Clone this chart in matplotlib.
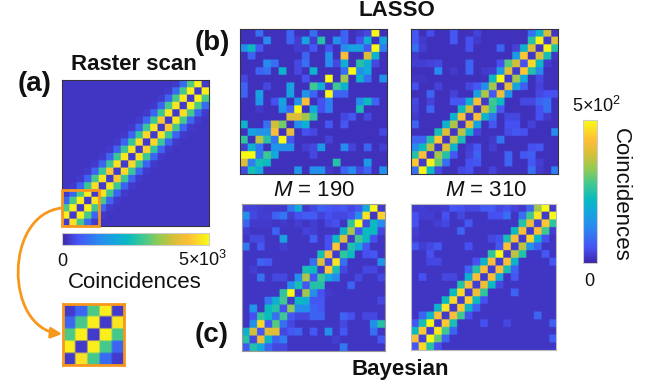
import matplotlib
matplotlib.use('Agg')
import matplotlib.pyplot as plt
from matplotlib.colors import LinearSegmentedColormap, Normalize
from matplotlib.cm import ScalarMappable
from matplotlib.patches import FancyArrowPatch, Rectangle
from matplotlib.path import Path
import numpy as np

plt.rcParams['font.family'] = ['Liberation Sans', 'DejaVu Sans']
plt.rcParams['mathtext.fontset'] = 'custom'
plt.rcParams['mathtext.rm'] = 'Liberation Sans'
plt.rcParams['mathtext.it'] = 'Liberation Sans:italic'

# All matrices are in percent of the colour scale (5e3 for raster, 5e2 for the others)
raster = [
    [4,4,4,4,4,4,4,4,4,4,4,4,4,4,4,5,17,58,97,5],
    [4,4,4,4,4,4,4,4,4,4,4,4,4,4,5,17,56,97,5,97],
    [4,4,4,4,4,4,4,4,4,4,4,4,4,5,16,56,96,5,97,57],
    [4,4,4,4,4,4,4,4,4,4,4,4,5,15,56,95,5,97,57,17],
    [4,4,4,4,4,4,4,4,4,4,4,5,15,54,95,5,93,56,16,5],
    [4,4,4,4,4,4,4,4,4,4,5,16,54,88,5,95,56,16,5,4],
    [4,4,4,4,4,4,4,4,4,5,15,54,95,5,88,56,16,5,4,4],
    [4,4,4,4,4,4,4,4,5,15,53,92,5,94,54,15,5,4,4,4],
    [4,4,4,4,4,4,4,5,15,53,93,5,92,54,15,5,4,4,4,4],
    [4,4,4,4,4,4,5,15,54,95,5,90,53,15,5,4,4,4,4,4],
    [4,4,4,4,4,5,15,54,95,5,94,54,15,5,4,4,4,4,4,4],
    [4,4,4,4,5,15,54,94,5,92,54,15,5,4,4,4,4,4,4,4],
    [4,4,4,5,15,54,88,5,92,54,15,5,4,4,4,4,4,4,4,4],
    [4,4,5,15,56,95,5,88,54,15,5,4,4,4,4,4,4,4,4,4],
    [4,5,15,54,93,5,95,54,15,5,4,4,4,4,4,4,4,4,4,4],
    [5,16,57,97,5,94,55,15,5,4,4,4,4,4,4,4,4,4,4,4],
    [16,56,97,5,95,56,16,5,4,4,4,4,4,4,4,4,4,4,4,4],
    [57,97,5,97,56,16,5,4,4,4,4,4,4,4,4,4,4,4,4,4],
    [97,5,97,56,16,5,4,4,4,4,4,4,4,4,4,4,4,4,4,4],
    [5,94,56,17,5,4,4,4,4,4,4,4,4,4,4,4,4,4,4,4],
]

lasso_190 = [
    [3,3,18,3,3,3,15,3,3,18,3,3,3,15,3,5,8,100,3],
    [3,3,3,25,3,3,15,6,35,6,50,3,28,15,3,10,40,3,35],
    [28,45,12,3,3,3,3,6,5,12,3,10,3,25,35,35,12,100,22],
    [3,15,3,3,3,3,3,3,15,3,3,28,3,85,3,3,78,42,3],
    [3,3,3,25,18,3,3,8,18,3,3,25,8,40,3,50,40,8,3],
    [3,3,15,18,3,42,3,8,3,42,3,3,3,18,100,28,38,3,3],
    [8,3,3,3,3,3,3,3,10,3,3,100,3,68,3,42,18,3,28],
    [15,3,3,8,3,3,35,3,3,55,40,5,55,42,3,3,3,3,3],
    [15,3,35,3,3,3,35,3,30,15,3,100,15,15,3,3,3,3,3],
    [3,3,30,3,10,35,3,30,85,3,10,22,3,3,3,28,45,15,3],
    [3,3,5,3,3,30,15,100,3,38,10,22,3,3,3,48,3,3,3],
    [3,3,3,3,3,3,78,78,68,52,3,3,3,8,12,3,8,3,3],
    [42,3,3,18,75,62,3,28,40,3,3,12,3,12,3,3,3,3,3],
    [3,35,30,30,85,3,80,3,10,8,3,3,3,3,3,3,3,3,8],
    [52,3,72,50,20,100,12,3,3,3,3,7,3,3,3,3,3,3,3],
    [6,42,20,3,30,28,28,3,6,8,32,3,3,25,7,3,15,3,6],
    [100,100,20,55,38,3,3,3,3,8,3,3,3,3,3,3,3,3,3],
    [78,22,48,45,3,3,3,3,3,3,3,3,50,3,3,3,32,3,3],
    [8,48,38,3,3,3,3,30,3,28,28,5,3,15,25,8,15,3,28],
]

lasso_310 = [
    [12,3,9,3,3,12,3,3,7,3,3,3,3,3,3,18,42,75,4],
    [12,5,3,3,3,12,3,10,5,3,3,3,3,3,3,50,98,5,78],
    [18,6,3,3,3,3,3,10,3,3,3,15,3,7,42,78,4,98,50],
    [5,3,3,3,3,3,3,3,3,3,3,3,3,32,88,4,78,48,4],
    [6,6,7,8,3,3,3,15,3,3,3,10,58,75,10,92,45,5,3],
    [3,3,3,25,3,5,3,15,3,5,6,32,78,5,88,50,25,3,3],
    [4,4,3,3,3,3,3,3,3,3,45,100,5,68,38,3,8,3,3],
    [10,3,3,7,3,3,3,8,12,28,68,4,80,35,14,3,7,3,3],
    [3,3,15,3,3,7,3,3,35,70,12,82,30,3,3,3,8,10,10],
    [8,3,7,3,3,12,12,40,85,5,55,45,3,3,8,8,15,18,3],
    [7,3,15,3,3,3,45,75,4,75,52,12,3,3,3,3,10,18,3],
    [5,3,3,3,3,42,85,5,85,42,20,3,8,8,3,3,10,5,3],
    [15,3,3,3,42,70,4,80,35,3,12,3,10,10,3,7,3,3,3],
    [3,3,3,48,78,4,72,42,7,3,3,3,9,12,10,3,3,3,25],
    [15,15,50,88,4,72,48,3,3,3,5,20,3,3,3,3,3,3,3],
    [25,45,72,4,78,42,3,6,12,3,6,3,3,3,3,10,12,3,3],
    [50,85,4,68,50,12,3,7,15,3,3,3,15,3,12,14,3,3,3],
    [88,5,98,60,18,3,3,10,12,3,3,3,15,3,3,12,6,3,3],
    [18,98,45,8,3,3,8,10,3,3,7,3,3,3,3,18,5,3,22],
]

bayes_190 = [
    [7,7,6,5,5,5,20,38,5,8,15,12,10,12,8,12,38,100,5],
    [28,8,6,6,15,20,6,10,13,13,7,10,8,8,10,25,95,4,90],
    [15,5,5,5,4,5,4,6,4,6,4,8,10,4,52,100,8,45,25],
    [6,4,4,4,15,4,4,4,7,6,4,4,4,42,68,12,45,45,8],
    [4,8,8,4,4,35,4,4,4,14,4,10,45,78,5,55,45,10,4],
    [20,4,12,4,4,6,4,4,4,4,4,10,88,5,50,38,12,4,4],
    [4,4,4,4,4,4,4,4,4,4,48,85,5,52,45,4,10,12,4],
    [4,4,15,12,4,4,4,4,4,18,78,8,95,18,4,4,4,4,30],
    [4,6,4,4,4,4,4,4,48,45,5,88,48,8,4,4,8,8,4],
    [4,4,18,4,8,8,4,28,70,12,55,38,25,4,4,8,4,4,8],
    [4,4,4,4,4,4,28,48,12,50,50,4,4,4,15,4,4,4,4],
    [4,4,4,4,4,52,100,5,68,28,10,5,4,4,4,4,4,4,4],
    [4,4,4,20,40,55,5,45,40,12,12,4,4,4,4,4,4,4,8],
    [4,30,4,45,50,10,65,25,28,15,12,4,4,4,4,4,4,4,4],
    [4,10,52,45,18,55,12,8,8,15,15,4,4,15,10,4,8,8,4],
    [4,28,92,12,58,18,8,4,4,4,4,4,4,8,4,4,4,28,50],
    [40,75,12,78,78,8,12,15,4,12,4,28,4,12,4,4,4,18,4],
    [50,8,82,42,15,22,4,4,4,4,4,4,6,4,4,4,4,4,12],
    [12,50,38,15,8,8,4,4,4,4,4,4,4,20,4,4,4,4,4],
]

bayes_310 = [
    [5,6,5,5,6,12,10,8,8,13,13,8,10,7,5,15,68,100,5],
    [10,6,6,4,10,4,8,4,4,4,10,10,18,4,18,55,95,5,100],
    [10,4,4,6,8,4,4,12,4,4,4,4,4,4,50,82,7,88,52],
    [6,4,4,4,4,4,15,4,4,4,4,4,4,45,85,5,85,55,6],
    [5,4,4,4,4,4,4,4,4,4,8,10,48,85,5,92,42,10,4],
    [12,6,8,12,4,4,4,10,4,4,4,12,85,5,72,30,15,4,4],
    [4,4,10,4,4,4,4,4,4,4,52,100,5,72,50,4,4,12,4],
    [4,4,8,8,4,4,4,4,10,42,85,6,85,42,4,4,4,4,12],
    [4,4,4,4,4,4,4,15,50,85,6,85,48,15,4,4,4,4,4],
    [4,10,4,4,8,8,4,40,85,5,85,38,4,12,4,4,4,4,4],
    [4,4,4,4,4,4,50,85,6,82,45,8,4,4,4,4,4,4,4],
    [4,4,4,4,4,45,92,6,82,52,4,4,4,15,4,4,4,4,4],
    [4,4,4,4,45,92,6,90,45,10,4,4,4,4,4,4,4,4,4],
    [4,4,4,42,95,5,88,42,15,4,4,4,4,4,4,4,4,4,4],
    [4,15,42,85,5,85,55,10,4,4,4,4,4,4,4,4,15,4,4],
    [12,48,100,5,88,48,4,4,4,10,4,4,8,4,4,4,4,4,14],
    [45,88,6,95,55,15,4,4,4,4,4,4,4,4,4,4,4,4,4],
    [85,7,100,60,15,4,4,4,4,4,4,4,4,4,4,4,4,4,14],
    [12,92,50,10,4,4,4,4,4,4,4,4,4,4,4,4,4,4,4],
]

# approximation of MATLAB parula
parula_pos = [0, .105, .25, .375, .45, .55, .66, .76, .86, 1]
parula_rgb = [(.2422,.1504,.6603), (.2810,.3228,.9579), (.1540,.5402,.9418),
              (.0689,.6648,.8594), (.0400,.7300,.7500), (.2461,.7843,.5723),
              (.5720,.7993,.3227), (.8420,.7493,.2199), (.9970,.7459,.2199),
              (.9769,.9839,.0805)]
parula = LinearSegmentedColormap.from_list('parula', list(zip(parula_pos, parula_rgb)))
norm = Normalize(0, 100)
ORANGE = '#f7981d'
W, H = 656, 390

fig = plt.figure(figsize=(W/100, H/100), dpi=100)

# axes placed by pixel box (left, top, right, bottom)
def box_axes(l, t, r, b):
    return fig.add_axes([l/W, 1 - b/H, (r-l)/W, (b-t)/H])

def panel(mat, l, t, r, b, edge='#333344', lw=0.8):
    ax = box_axes(l, t, r, b)
    arr = np.array(mat)
    n, m = arr.shape
    # repeated cells + bilinear gives the slightly soft cell edges of the original
    ax.imshow(np.kron(arr, np.ones((6, 6))), cmap=parula, norm=norm, aspect='auto',
              interpolation='bilinear', extent=(-.5, m-.5, n-.5, -.5))
    ax.set_xticks([])
    ax.set_yticks([])
    for s in ax.spines.values():
        s.set_color(edge)
        s.set_linewidth(lw)
    return ax

ax_raster = panel(raster, 62, 80, 209, 226)
panel(lasso_190, 240, 29, 387, 174)
panel(lasso_310, 411, 29, 558, 174)
panel(bayes_190, 242, 204, 385, 351, edge='#999999')
panel(bayes_310, 411, 204, 556, 350, edge='#bbbbbb')

# magnified corner of the raster scan
corner = np.array(raster)[-5:, :5]
panel(corner, 63, 304, 124, 365, edge=ORANGE, lw=2)

# orange box on the raster, 5 cells in the lower left corner
ax_raster.add_patch(Rectangle((-0.5, 14.5), 5, 5, fill=False, edgecolor=ORANGE, lw=2, clip_on=False, zorder=5))

top = fig.add_axes([0, 0, 1, 1], zorder=10)
top.set_xlim(0, W)
top.set_ylim(H, 0)
top.axis('off')
curve = Path([(62, 208), (4, 214), (4, 328), (62, 334)], [Path.MOVETO, Path.CURVE4, Path.CURVE4, Path.CURVE4])
curve_disp = top.transData.transform_path(curve)
top.add_patch(FancyArrowPatch(path=curve_disp, arrowstyle='-|>', mutation_scale=16, color=ORANGE, lw=2,
                              transform=None))

# colour bars
cb1 = box_axes(62, 233, 209, 245)
cbar1 = fig.colorbar(ScalarMappable(norm=norm, cmap=parula), cax=cb1, orientation='horizontal')
cbar1.set_ticks([])
cbar1.outline.set_edgecolor('#cccccc')

cb2 = box_axes(583, 120, 597, 263)
cbar2 = fig.colorbar(ScalarMappable(norm=norm, cmap=parula), cax=cb2, orientation='vertical')
cbar2.set_ticks([])
cbar2.outline.set_edgecolor('#cccccc')

# text, in pixel coordinates
def label(x, y, s, size=16, weight='normal', **kw):
    top.text(x, y, s, fontsize=size, fontweight=weight, ha='center', va='center', color='#111111', **kw)

label(35, 84, '(a)', 20, 'bold')
label(212, 43, '(b)', 20, 'bold')
label(212, 335, '(c)', 20, 'bold')
label(134, 64, 'Raster scan', 16, 'bold')
label(397, 10, 'LASSO', 16, 'bold')
label(400, 370, 'Bayesian', 16, 'bold')
label(314, 191, r'$\mathit{M}$ = 190', 16)
label(486, 191, r'$\mathit{M}$ = 310', 16)
label(62, 261, '0', 13)
label(203, 260, '5×10$^3$', 13)
label(135, 282, 'Coincidences', 16)
label(597, 106, '5×10$^2$', 13)
label(589, 281, '0', 13)
label(620, 195, 'Coincidences', 16, rotation=270)

fig.savefig('out.png', dpi=100)
